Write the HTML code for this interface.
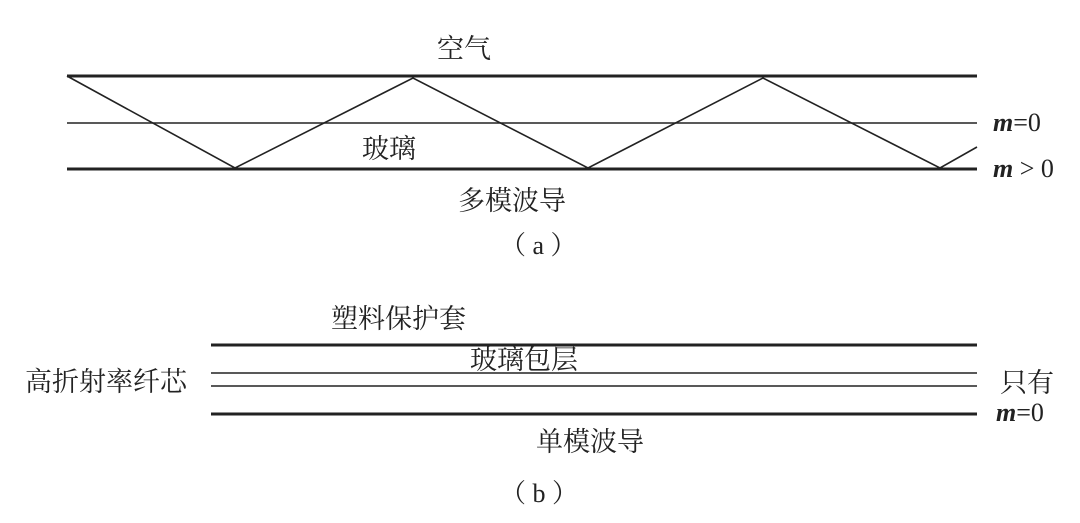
<!DOCTYPE html>
<html><head><meta charset="utf-8"><style>
html,body{margin:0;padding:0;background:#fff;width:1080px;height:523px;overflow:hidden}
svg text{font-family:"Liberation Serif","Noto Serif CJK SC",serif;fill:#222}
</style></head><body>
<svg width="1080" height="523" viewBox="0 0 1080 523" xmlns="http://www.w3.org/2000/svg">
<g stroke="#222" fill="none">
<line x1="67" y1="76" x2="977" y2="76" stroke-width="3"/>
<line x1="67" y1="123" x2="977" y2="123" stroke-width="1.5"/>
<line x1="67" y1="169" x2="977" y2="169" stroke-width="3"/>
<polyline points="67,76 235,168 413,78 588,168 763,78 940,168 977,147" stroke-width="1.6"/>
<line x1="211" y1="345" x2="977" y2="345" stroke-width="3"/>
<line x1="211" y1="373" x2="977" y2="373" stroke-width="1.5"/>
<line x1="211" y1="386" x2="977" y2="386" stroke-width="1.5"/>
<line x1="211" y1="414" x2="977" y2="414" stroke-width="3"/>
</g>
<g font-size="27">
<text x="437" y="58">空气</text>
<text x="362" y="158">玻璃</text>
<text x="458" y="210">多模波导</text>
<text x="331" y="328">塑料保护套</text>
<text x="470" y="369">玻璃包层</text>
<text x="25" y="391">高折射率纤芯</text>
<text x="1000" y="392">只有</text>
<text x="536" y="451">单模波导</text>
</g>
<g font-size="26">
<text x="500" y="254">（ a ）</text>
<text x="500" y="502">（ b ）</text>
<text x="993" y="131"><tspan font-style="italic" font-weight="bold">m</tspan>=0</text>
<text x="993" y="177"><tspan font-style="italic" font-weight="bold">m</tspan> &gt; 0</text>
<text x="996" y="421"><tspan font-style="italic" font-weight="bold">m</tspan>=0</text>
</g>
</svg>
</body></html>
